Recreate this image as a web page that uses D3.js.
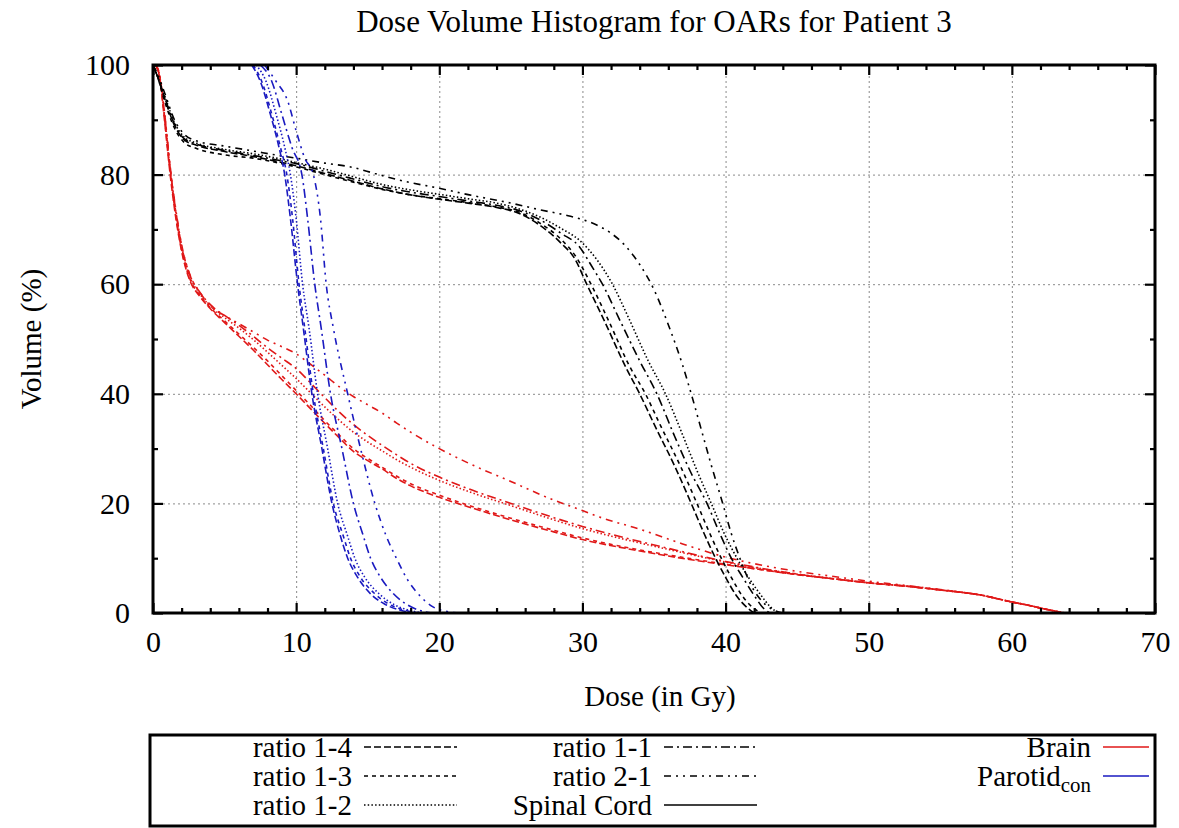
<!DOCTYPE html>
<html>
<head>
<meta charset="utf-8">
<script src="https://cdn.jsdelivr.net/npm/d3@7"></script>
<style>
  html, body { margin: 0; padding: 0; background: #fff; }
  svg { display: block; }
  svg text { font-family: "Liberation Serif", "Times New Roman", serif; fill: #000; }
</style>
</head>
<body>
<svg id="chart" width="1179" height="828"></svg>
<script>
// ---- Dose-volume data: [dose in Gy, volume in %] ----

// Spinal cord
const cord_1_4 = [[0,100],[0.3,98],[0.8,94],[1.5,89],[2.2,86.3],[3,85.4],[5,84.2],[7,83.3],[9,82.2],[10,81.6],[12,80.2],[14,78.8],[16,77.4],[18,76.3],[20,75.5],[22,74.8],[24,74.0],[25.5,73.0],[27,70.8],[28.5,67.5],[29.5,64.5],[30.3,60],[31.5,53.5],[33,45],[34,40],[35,34.5],[36.5,26.5],[37.6,20],[38.5,14.5],[39.3,10],[40,6.5],[40.8,3],[41.5,1],[42,0]];
const cord_1_3 = [[0,100],[0.3,98],[0.8,93.5],[1.5,88.5],[2.2,85.8],[3,84.8],[5,83.6],[7,83.0],[9,82.0],[10,81.4],[12,80.0],[14,78.6],[16,77.3],[18,76.3],[20,75.6],[22,74.9],[24,74.1],[25.5,73.2],[27,71.2],[28.5,68.2],[29.5,65.2],[30.6,60],[31.8,53.5],[33.3,45],[34.4,40],[35.4,34.5],[36.9,26.5],[38.0,20],[38.9,14.5],[39.7,10],[40.4,6.5],[41.2,3],[41.9,1],[42.5,0]];
const cord_1_2 = [[0,100],[0.3,98],[0.8,94.5],[1.5,89.5],[2.2,86.8],[3,85.8],[5,84.6],[7,83.8],[9,82.8],[10,82.2],[12,81.0],[14,79.6],[16,78.2],[18,77.2],[20,76.4],[22,75.6],[24,74.8],[25.5,73.8],[27,72.3],[28.5,70.2],[29.8,68],[31,64.5],[32.1,60],[33.2,54],[34.6,46],[35.8,40],[37,32.5],[38,26],[39,20],[40,14],[40.8,10],[41.6,6.5],[42.4,3.5],[43.1,1.2],[43.7,0]];
const cord_1_1 = [[0,100],[0.3,98],[0.8,94.2],[1.5,89.2],[2.2,86.5],[3,85.6],[5,84.4],[7,83.5],[9,82.5],[10,82.0],[12,80.6],[14,79.2],[16,77.8],[18,76.8],[20,76.0],[22,75.2],[24,74.4],[25.5,73.5],[27,71.8],[28.5,69.3],[29.8,66.8],[30.6,63.5],[31.4,60],[32.6,53.5],[34,46],[35.2,40],[36.4,32.5],[37.6,25.5],[38.7,20],[39.6,14.5],[40.4,10],[41.2,6.5],[42,3.2],[42.6,1],[43.1,0]];
const cord_2_1 = [[0,100],[0.3,98.5],[0.8,95],[1.5,90],[2.2,87.3],[3,86.2],[5,85.2],[7,84.3],[9,83.4],[10,83.0],[12,82.1],[13.8,81.4],[15.5,80.2],[17.2,79.0],[20,77.5],[22.1,76.3],[25,74.8],[27,73.6],[29,72.5],[30,71.8],[31,70.8],[32,69.3],[33,67.0],[34,63.6],[35,59.0],[36,52.6],[37,45.2],[37.6,40],[38.3,33.5],[39,27],[39.8,20],[40.4,14.5],[41,10],[41.8,5],[42.8,1.5],[43.5,0.4],[44,0]];

// Contralateral parotid
const parotid_1_4 = [[6.9,100],[7.5,97],[8.2,91],[8.8,85],[9.2,80],[9.6,72],[10.1,60],[10.5,52],[11.1,40],[11.8,30],[12.5,20],[13.1,14],[13.6,10],[14.3,6.5],[15.2,3.5],[16.2,1.6],[17.3,0.5],[18.3,0]];
const parotid_1_3 = [[7.0,100],[7.6,97],[8.3,91],[8.9,85],[9.35,80],[9.75,72],[10.2,60],[10.6,52],[11.2,40],[11.9,30],[12.6,20],[13.3,14],[13.8,10],[14.5,6.5],[15.5,3.5],[16.5,1.6],[17.6,0.5],[18.6,0]];
const parotid_1_2 = [[7.2,100],[7.9,97],[8.6,91],[9.2,85],[9.6,80],[10.0,72],[10.45,60],[10.9,52],[11.5,40],[12.2,30],[12.9,20],[13.6,14],[14.1,10],[14.8,6.5],[15.8,3.5],[16.8,1.6],[17.9,0.5],[18.9,0]];
const parotid_1_1 = [[7.5,100],[8.3,97],[9.0,91],[9.7,85],[10.4,80],[10.8,72],[11.3,60],[11.75,52],[12.4,40],[13.2,30],[14.0,20],[14.7,14],[15.2,10],[15.9,6.5],[16.8,3.5],[17.7,1.6],[18.6,0.5],[19.5,0]];
const parotid_2_1 = [[7.8,100],[8.6,97],[9.4,93.5],[10.0,88],[10.6,83],[11.2,80],[11.7,72],[12.1,60],[12.6,52],[13.6,40],[14.5,30],[15.5,20],[16.3,14],[17.0,10],[17.8,6],[18.7,3],[19.5,1.2],[20.5,0.3],[21.5,0]];

// Brain
const brain_1_4 = [[0.2,100],[0.5,97],[0.8,90],[1.2,80],[1.6,72],[2.0,66],[2.6,60.5],[3.2,58],[4.2,55],[5,53],[6,50.5],[7,48],[8,45.3],[9,42.6],[10,40],[11,37.3],[12,34.6],[13,32],[14,29.5],[15,27.8],[16,26.3],[17,24.6],[18,23.2],[20,21.1],[22,19.4],[25,17],[28,14.8],[30,13.4],[33,11.8],[36,10.4],[40,8.8],[42,8.1],[45,7],[48,6.1],[50,5.5],[53,4.8],[55,4.2],[57,3.6],[58,3.2],[59,2.6],[60,2.0],[61,1.5],[62,0.9],[63,0.35],[63.7,0]];
const brain_1_3 = [[0.2,100],[0.5,97.2],[0.8,90.5],[1.2,80.5],[1.6,72.5],[2.0,66.3],[2.6,60.8],[3.2,58.2],[4.2,55.2],[5,53.3],[6,50.9],[7,48.5],[8,46],[9,43.3],[10,40.6],[11,37.9],[12,35.1],[13,32.5],[14,30.0],[15,28.2],[16,26.6],[17,25.0],[18,23.6],[20,21.5],[22,19.7],[25,17.3],[28,15.1],[30,13.7],[33,12.0],[36,10.6],[40,8.9],[42,8.1],[45,7],[48,6.1],[50,5.5],[53,4.8],[55,4.2],[57,3.6],[58,3.2],[59,2.6],[60,2.0],[61,1.5],[62,0.9],[63,0.35],[63.7,0]];
const brain_1_2 = [[0.2,100],[0.5,97.5],[0.8,91],[1.2,81],[1.6,73],[2.0,66.8],[2.6,61.2],[3.2,58.5],[4.2,55.5],[5,53.9],[6,52],[7,49.9],[8,47.6],[9,45.2],[10,42.8],[11,40.2],[12,37.6],[13,35.2],[14,33.0],[15,31.2],[16,29.6],[17,28.0],[18,26.6],[20,24.2],[22,22.2],[25,19.6],[28,17.0],[30,15.4],[33,13.4],[36,11.6],[40,9.3],[42,8.3],[45,7.1],[48,6.1],[50,5.5],[53,4.8],[55,4.2],[57,3.6],[58,3.2],[59,2.6],[60,2.0],[61,1.5],[62,0.9],[63,0.35],[63.7,0]];
const brain_1_1 = [[0.2,100],[0.5,97.5],[0.8,91.2],[1.2,81.2],[1.6,73.2],[2.0,67],[2.6,61.5],[3.2,58.8],[4.2,55.8],[5,54.3],[6,52.5],[7,50.5],[8,48.4],[9,46.5],[10,44.6],[11,42.0],[12,39.3],[13,36.7],[14,34.4],[15,32.4],[16,30.6],[17,28.9],[18,27.3],[20,24.8],[22,22.7],[25,20.0],[28,17.4],[30,15.8],[33,13.7],[36,11.8],[40,9.4],[42,8.4],[45,7.1],[48,6.1],[50,5.5],[53,4.8],[55,4.2],[57,3.6],[58,3.2],[59,2.6],[60,2.0],[61,1.5],[62,0.9],[63,0.35],[63.7,0]];
const brain_2_1 = [[0.2,100],[0.5,97.8],[0.8,91.5],[1.2,81.5],[1.6,73.5],[2.0,67.2],[2.6,61.6],[3.2,58.8],[4.2,55.6],[5,54.3],[6,52.8],[7,51.3],[8,49.8],[9,48.6],[10,47.3],[11,45.4],[12,43.4],[13,41.3],[14,39.5],[15,38.0],[16,36.5],[17,34.7],[18,33.0],[20,30.0],[22,27.4],[25,24.0],[28,20.6],[30,18.7],[31.2,17.5],[34,15.3],[37,12.6],[40,10.2],[42,9.0],[45,7.6],[48,6.5],[50,5.8],[53,4.9],[55,4.3],[57,3.6],[58,3.2],[59,2.6],[60,2.0],[61,1.5],[62,0.9],[63,0.35],[63.7,0]];

// Axis tick values and labels
const xMajorTicks = [0, 10, 20, 30, 40, 50, 60, 70];
const yMajorTicks = [0, 20, 40, 60, 80, 100];
const xMinorTicks = d3.range(0, 71, 2);
const yMinorTicks = d3.range(0, 101, 10);

const titleText = "Dose Volume Histogram for OARs for Patient 3";
const xLabelText = "Dose (in Gy)";
const yLabelText = "Volume (%)";

// Plan ratios (line styles) and organs (colours)
const planNames = ["ratio 1-4", "ratio 1-3", "ratio 1-2", "ratio 1-1", "ratio 2-1"];
const organNames = ["Spinal Cord", "Brain", "Parotid_con"];

// ---- Styling ----
const serif = "Liberation Serif, Times New Roman, serif";
const dashByPlan = {
  "ratio 1-4": "7,3",
  "ratio 1-3": "4,4",
  "ratio 1-2": "1.5,2.2",
  "ratio 1-1": "9,4,2,4",
  "ratio 2-1": "7,5,2,5,2,5"
};
const colorByOrgan = {
  "Spinal Cord": "#000000",
  "Brain": "#e01818",
  "Parotid_con": "#1a1ac0"
};

const series = [
  { organ: "Brain", plan: "ratio 1-4", values: brain_1_4 },
  { organ: "Brain", plan: "ratio 1-3", values: brain_1_3 },
  { organ: "Brain", plan: "ratio 1-2", values: brain_1_2 },
  { organ: "Brain", plan: "ratio 1-1", values: brain_1_1 },
  { organ: "Brain", plan: "ratio 2-1", values: brain_2_1 },
  { organ: "Spinal Cord", plan: "ratio 1-4", values: cord_1_4 },
  { organ: "Spinal Cord", plan: "ratio 1-3", values: cord_1_3 },
  { organ: "Spinal Cord", plan: "ratio 1-2", values: cord_1_2 },
  { organ: "Spinal Cord", plan: "ratio 1-1", values: cord_1_1 },
  { organ: "Spinal Cord", plan: "ratio 2-1", values: cord_2_1 },
  { organ: "Parotid_con", plan: "ratio 1-4", values: parotid_1_4 },
  { organ: "Parotid_con", plan: "ratio 1-3", values: parotid_1_3 },
  { organ: "Parotid_con", plan: "ratio 1-2", values: parotid_1_2 },
  { organ: "Parotid_con", plan: "ratio 1-1", values: parotid_1_1 },
  { organ: "Parotid_con", plan: "ratio 2-1", values: parotid_2_1 }
];

// ---- Layout ----
const svg = d3.select("#chart");
const plot = { left: 153, right: 1155, top: 65, bottom: 613 };
const fontSize = 29;
const tickFontSize = 30;
const titleFontSize = 31;

const x = d3.scaleLinear().domain([0, 70]).range([plot.left, plot.right]);
const y = d3.scaleLinear().domain([0, 100]).range([plot.bottom, plot.top]);
const plotW = plot.right - plot.left;
const plotH = plot.bottom - plot.top;

// Grid (dotted lines at interior major ticks)
const gridX = d3.axisBottom(x).tickValues(xMajorTicks.filter(v => v > 0 && v < 70)).tickSize(-plotH).tickFormat("");
const gridY = d3.axisLeft(y).tickValues(yMajorTicks.filter(v => v > 0 && v < 100)).tickSize(-plotW).tickFormat("");
svg.append("g").attr("transform", `translate(0,${plot.bottom})`).call(gridX)
  .call(g => g.select(".domain").remove())
  .selectAll("line").attr("stroke", "#8a8a8a").attr("stroke-width", 1).attr("stroke-dasharray", "2,3");
svg.append("g").attr("transform", `translate(${plot.left},0)`).call(gridY)
  .call(g => g.select(".domain").remove())
  .selectAll("line").attr("stroke", "#8a8a8a").attr("stroke-width", 1).attr("stroke-dasharray", "2,3");

// Curves
svg.append("clipPath").attr("id", "plotClip").append("rect")
  .attr("x", plot.left).attr("y", plot.top - 2).attr("width", plotW).attr("height", plotH + 2);
const line = d3.line().x(d => x(d[0])).y(d => y(d[1])).curve(d3.curveMonotoneX);
svg.append("g").attr("clip-path", "url(#plotClip)")
  .selectAll("path").data(series).join("path")
  .attr("d", d => line(d.values))
  .attr("fill", "none")
  .attr("stroke", d => colorByOrgan[d.organ])
  .attr("stroke-width", 1.6)
  .attr("stroke-dasharray", d => dashByPlan[d.plan]);

// Inward ticks on all four sides (major and minor)
function tickAxis(axisFn, scale, values, size, transform) {
  const g = svg.append("g").attr("transform", transform)
    .call(axisFn(scale).tickValues(values).tickSize(size).tickFormat(""));
  g.select(".domain").remove();
  g.selectAll("line").attr("stroke", "#000").attr("stroke-width", 2.2);
}
const xMinorOnly = xMinorTicks.filter(v => !xMajorTicks.includes(v));
const yMinorOnly = yMinorTicks.filter(v => !yMajorTicks.includes(v));
tickAxis(d3.axisBottom, x, xMajorTicks, -10, `translate(0,${plot.bottom})`);
tickAxis(d3.axisBottom, x, xMinorOnly, -5, `translate(0,${plot.bottom})`);
tickAxis(d3.axisTop, x, xMajorTicks, -10, `translate(0,${plot.top})`);
tickAxis(d3.axisTop, x, xMinorOnly, -5, `translate(0,${plot.top})`);
tickAxis(d3.axisLeft, y, yMajorTicks, -10, `translate(${plot.left},0)`);
tickAxis(d3.axisLeft, y, yMinorOnly, -5, `translate(${plot.left},0)`);
tickAxis(d3.axisRight, y, yMajorTicks, -10, `translate(${plot.right},0)`);
tickAxis(d3.axisRight, y, yMinorOnly, -5, `translate(${plot.right},0)`);

// Frame
svg.append("rect").attr("x", plot.left).attr("y", plot.top).attr("width", plotW).attr("height", plotH)
  .attr("fill", "none").attr("stroke", "#000").attr("stroke-width", 3);

// Tick labels
const xLab = svg.append("g").attr("transform", `translate(0,${plot.bottom})`)
  .call(d3.axisBottom(x).tickValues(xMajorTicks).tickSize(0).tickPadding(18).tickFormat(d3.format("d")));
xLab.select(".domain").remove();
xLab.attr("font-family", serif).attr("font-size", tickFontSize);
const yLab = svg.append("g").attr("transform", `translate(${plot.left},0)`)
  .call(d3.axisLeft(y).tickValues(yMajorTicks).tickSize(0).tickPadding(23).tickFormat(d3.format("d")));
yLab.select(".domain").remove();
yLab.attr("font-family", serif).attr("font-size", tickFontSize);

// Titles
svg.append("text").attr("x", (plot.left + plot.right) / 2).attr("y", 32)
  .attr("text-anchor", "middle").attr("font-family", serif).attr("font-size", titleFontSize).text(titleText);
svg.append("text").attr("x", (plot.left + plot.right) / 2 + 6).attr("y", 706)
  .attr("text-anchor", "middle").attr("font-family", serif).attr("font-size", fontSize).text(xLabelText);
svg.append("text").attr("transform", `translate(41,${(plot.top + plot.bottom) / 2}) rotate(-90)`)
  .attr("text-anchor", "middle").attr("font-family", serif).attr("font-size", fontSize).text(yLabelText);

// ---- Legend ----
const legendBox = { x: 150, y: 735, w: 1005, h: 91 };
svg.append("rect").attr("x", legendBox.x).attr("y", legendBox.y).attr("width", legendBox.w).attr("height", legendBox.h)
  .attr("fill", "#fff").attr("stroke", "#000").attr("stroke-width", 3);

const legendEntries = [
  ...planNames.map(p => ({ label: p, dash: dashByPlan[p], color: "#000" })),
  { label: "Spinal Cord", dash: null, color: colorByOrgan["Spinal Cord"] },
  { label: "Brain", dash: null, color: colorByOrgan["Brain"] },
  { label: "Parotid_con", dash: null, color: colorByOrgan["Parotid_con"] }
];
const colTextRight = [352, 652, 1091];
const rowY = [747, 776, 805];
const sampleGap = 12, sampleLen = 93;

legendEntries.forEach((e, i) => {
  const col = Math.floor(i / 3), row = i % 3;
  const tx = colTextRight[col], ty = rowY[row];
  const t = svg.append("text").attr("x", tx).attr("y", ty).attr("dy", "0.35em")
    .attr("text-anchor", "end").attr("font-family", serif).attr("font-size", fontSize);
  const parts = e.label.split("_");
  t.append("tspan").text(parts[0]);
  if (parts[1]) t.append("tspan").attr("dy", "0.3em").attr("font-size", fontSize * 0.72).text(parts[1]);
  svg.append("line")
    .attr("x1", tx + sampleGap).attr("x2", Math.min(tx + sampleGap + sampleLen, legendBox.x + legendBox.w - 6))
    .attr("y1", ty).attr("y2", ty)
    .attr("stroke", e.color).attr("stroke-width", 1.6)
    .attr("stroke-dasharray", e.dash);
});
</script>
</body>
</html>
